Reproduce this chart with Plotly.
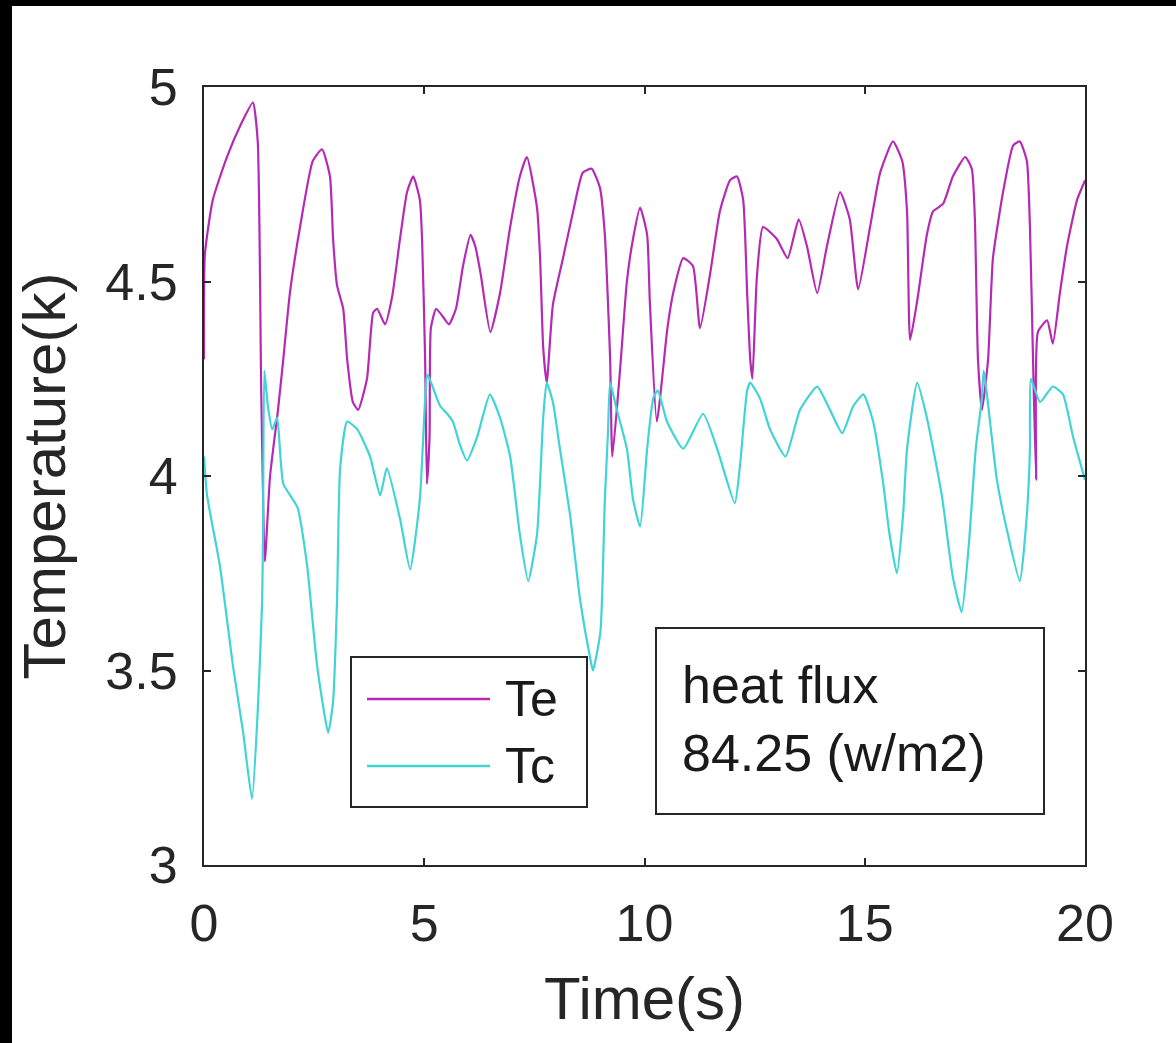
import plotly.graph_objects as go

# ---- data ----
te_t = [0.00, 0.02, 0.20, 0.52, 0.82, 1.11, 1.22, 1.30, 1.38, 1.50, 1.68, 1.80, 1.95, 2.18,
        2.47, 2.68, 2.86, 2.93, 3.02, 3.16, 3.25, 3.38, 3.50, 3.70, 3.84, 3.93, 4.11, 4.27,
        4.45, 4.61, 4.75, 4.90, 4.95, 5.02, 5.06, 5.12, 5.15, 5.27, 5.42, 5.56, 5.72, 5.88,
        6.05, 6.16, 6.28, 6.50, 6.72, 6.95, 7.17, 7.33, 7.56, 7.63, 7.70, 7.78, 7.92, 8.15,
        8.38, 8.60, 8.80, 8.99, 9.10, 9.22, 9.27, 9.45, 9.60, 9.74, 9.90, 10.06, 10.12, 10.28,
        10.52, 10.65, 10.88, 11.10, 11.26, 11.49, 11.71, 11.94, 12.10, 12.24, 12.33, 12.40,
        12.45, 12.55, 12.69, 13.00, 13.25, 13.50, 13.69, 13.92, 14.14, 14.44, 14.66, 14.85,
        15.12, 15.35, 15.64, 15.85, 15.96, 16.03, 16.19, 16.41, 16.55, 16.78, 17.00, 17.28,
        17.43, 17.50, 17.57, 17.66, 17.80, 17.91, 18.14, 18.37, 18.52, 18.68, 18.75, 18.82,
        18.89, 18.93, 19.14, 19.27, 19.43, 19.59, 19.82, 20.00]
te_v = [4.30, 4.57, 4.71, 4.82, 4.90, 4.96, 4.86, 4.21, 3.78, 4.00, 4.17, 4.30, 4.47, 4.64,
        4.81, 4.84, 4.77, 4.61, 4.49, 4.43, 4.30, 4.19, 4.17, 4.25, 4.42, 4.43, 4.39, 4.46,
        4.61, 4.73, 4.77, 4.71, 4.61, 4.30, 3.98, 4.10, 4.38, 4.43, 4.41, 4.39, 4.43, 4.54,
        4.62, 4.59, 4.52, 4.37, 4.47, 4.64, 4.77, 4.82, 4.69, 4.56, 4.33, 4.24, 4.44, 4.56,
        4.68, 4.78, 4.79, 4.74, 4.62, 4.30, 4.05, 4.28, 4.50, 4.61, 4.69, 4.62, 4.45, 4.14,
        4.38, 4.47, 4.56, 4.54, 4.38, 4.52, 4.68, 4.76, 4.77, 4.71, 4.47, 4.30,
        4.25, 4.51, 4.64, 4.61, 4.56, 4.66, 4.59, 4.47, 4.59, 4.73, 4.66, 4.48,
        4.64, 4.78, 4.86, 4.81, 4.68, 4.35, 4.45, 4.62, 4.68, 4.70, 4.77, 4.82,
        4.79, 4.66, 4.30, 4.17, 4.30, 4.56, 4.73, 4.85, 4.86, 4.81, 4.64, 4.30,
        3.99, 4.37, 4.40, 4.34, 4.47, 4.59, 4.71, 4.76]

tc_t = [0.00, 0.07, 0.36, 0.66, 0.89, 1.09, 1.23, 1.32, 1.34, 1.37, 1.45, 1.55, 1.66, 1.80,
        2.12, 2.34, 2.57, 2.82, 2.93, 3.02, 3.09, 3.25, 3.48, 3.77, 4.00, 4.15, 4.45, 4.68,
        4.90, 5.05, 5.08, 5.36, 5.52, 5.65, 5.81, 5.97, 6.20, 6.49, 6.72, 6.95, 7.17, 7.36,
        7.56, 7.70, 7.78, 7.92, 8.08, 8.31, 8.54, 8.77, 8.83, 9.00, 9.10, 9.17, 9.22, 9.35,
        9.60, 9.74, 9.90, 10.06, 10.20, 10.30, 10.51, 10.88, 11.33, 11.65, 12.05, 12.17,
        12.33, 12.40, 12.62, 12.85, 13.20, 13.53, 13.92, 14.21, 14.49, 14.74, 14.97, 15.19,
        15.42, 15.55, 15.73, 15.87, 15.96, 16.19, 16.41, 16.75, 17.00, 17.20, 17.36, 17.52,
        17.66, 17.70, 18.00, 18.23, 18.52, 18.68, 18.75, 18.77, 18.98, 19.27, 19.50, 19.73,
        20.00]
tc_v = [4.05, 3.95, 3.77, 3.51, 3.34, 3.17, 3.42, 3.68, 3.85, 4.27, 4.18, 4.12, 4.15, 3.98,
        3.92, 3.77, 3.51, 3.34, 3.42, 3.68, 4.02, 4.14, 4.12, 4.05, 3.95, 4.02, 3.89, 3.76,
        3.94, 4.25, 4.26, 4.18, 4.16, 4.14, 4.08, 4.04, 4.10, 4.21, 4.15, 4.05, 3.85, 3.73,
        3.85, 4.15, 4.24, 4.19, 4.07, 3.90, 3.68, 3.53, 3.50, 3.60, 3.94, 4.11, 4.24, 4.18,
        4.07, 3.94, 3.87, 4.07, 4.20, 4.22, 4.14, 4.07, 4.16, 4.07, 3.93, 4.03,
        4.22, 4.24, 4.20, 4.12, 4.05, 4.17, 4.23, 4.17, 4.11, 4.18, 4.21, 4.14,
        3.98, 3.86, 3.75, 3.90, 4.07, 4.24, 4.15, 3.95, 3.74, 3.65, 3.82, 4.07,
        4.20, 4.27, 3.99, 3.86, 3.73, 3.90, 4.07, 4.25, 4.19, 4.23, 4.21, 4.10,
        3.99]

series_names = ["Te", "Tc"]
series_colors = ["#B52AB5", "#40D4D4"]
x_ticks = [0, 5, 10, 15, 20]
y_ticks = [3, 3.5, 4, 4.5, 5]
y_tick_text = ["3", "3.5", "4", "4.5", "5"]
x_title = "Time(s)"
y_title = "Temperature(k)"
box_text = "heat flux<br>84.25 (w/m2)"

# ---- figure geometry (pixels) ----
W, H = 1176, 1043
L, R, T, B = 204, 1085, 87, 865
pw, ph = R - L, B - T


def px(x):
    return (x - L) / pw


def py(y):
    return (B - y) / ph


FONT = "Liberation Sans, Arial, Helvetica, sans-serif"
AX = "#262626"

fig = go.Figure()
fig.add_trace(go.Scatter(x=te_t, y=te_v, mode="lines", name=series_names[0],
                         line=dict(color=series_colors[0], width=2.2, shape="spline", smoothing=0.5),
                         showlegend=False))
fig.add_trace(go.Scatter(x=tc_t, y=tc_v, mode="lines", name=series_names[1],
                         line=dict(color=series_colors[1], width=2.2, shape="spline", smoothing=0.5),
                         showlegend=False))

shapes = []
# black border strips of the picture
shapes.append(dict(type="rect", xref="paper", yref="paper", x0=px(-5), x1=px(12), y0=py(H + 5), y1=py(-5),
                   fillcolor="black", line=dict(width=0), layer="above"))
shapes.append(dict(type="rect", xref="paper", yref="paper", x0=px(-5), x1=px(W + 5), y0=py(6), y1=py(-5),
                   fillcolor="black", line=dict(width=0), layer="above"))
# legend box
shapes.append(dict(type="rect", xref="paper", yref="paper", x0=px(351), x1=px(587), y0=py(807), y1=py(657),
                   fillcolor="white", line=dict(color=AX, width=2), layer="above"))
leg_y = [699, 766]
for i in range(2):
    shapes.append(dict(type="line", xref="paper", yref="paper", x0=px(367), x1=px(490),
                       y0=py(leg_y[i]), y1=py(leg_y[i]),
                       line=dict(color=series_colors[i], width=2.5), layer="above"))
# heat flux box
shapes.append(dict(type="rect", xref="paper", yref="paper", x0=px(656), x1=px(1044), y0=py(814), y1=py(628),
                   fillcolor="white", line=dict(color=AX, width=2), layer="above"))

annotations = []
for i in range(2):
    annotations.append(dict(text=series_names[i], xref="paper", yref="paper", x=px(503), y=py(leg_y[i]),
                            xanchor="left", yanchor="middle", showarrow=False,
                            font=dict(family=FONT, size=50, color="#1a1a1a")))
annotations.append(dict(text=box_text, xref="paper", yref="paper", x=px(680), y=py(719),
                        xanchor="left", yanchor="middle", align="left", showarrow=False,
                        font=dict(family=FONT, size=52, color="#1a1a1a")))

fig.update_layout(
    width=W, height=H,
    margin=dict(l=L, r=W - R, t=T, b=H - B, pad=0),
    paper_bgcolor="white", plot_bgcolor="white",
    shapes=shapes, annotations=annotations,
    font=dict(family=FONT, color=AX),
)
fig.update_xaxes(range=[0, 20], tickvals=x_ticks, ticks="inside", ticklen=7, tickwidth=1.5,
                 tickcolor=AX, showline=True, linecolor=AX, linewidth=2, mirror="ticks",
                 showgrid=False, zeroline=False, tickfont=dict(family=FONT, size=52, color=AX),
                 ticklabelstandoff=12,
                 title=dict(text=x_title, font=dict(family=FONT, size=60, color=AX), standoff=26))
fig.update_yaxes(range=[3, 5], tickvals=y_ticks, ticktext=y_tick_text, ticks="inside", ticklen=7,
                 tickwidth=1.5, tickcolor=AX, showline=True, linecolor=AX, linewidth=2, mirror="ticks",
                 showgrid=False, zeroline=False, tickfont=dict(family=FONT, size=52, color=AX),
                 ticklabelstandoff=14,
                 title=dict(text=y_title, font=dict(family=FONT, size=60, color=AX), standoff=20))

fig.write_html("out.html")
